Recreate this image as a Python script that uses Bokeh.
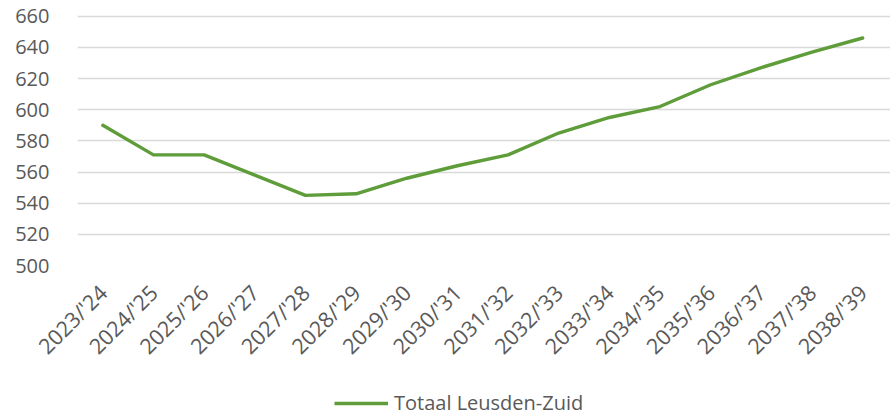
import math
from bokeh.plotting import figure
from bokeh.layouts import column
from bokeh.models import Range1d, FixedTicker, Legend, LegendItem, ColumnDataSource
from bokeh.embed import file_html
from bokeh.resources import INLINE

categories = ["2023/'24", "2024/'25", "2025/'26", "2026/'27", "2027/'28", "2028/'29",
              "2029/'30", "2030/'31", "2031/'32", "2032/'33", "2033/'34", "2034/'35",
              "2035/'36", "2036/'37", "2037/'38", "2038/'39"]
totaal = [590, 571, 571, 558, 545, 546, 556, 564, 571, 585, 595, 602, 616, 627, 637, 646]
y_ticks = [500, 520, 540, 560, 580, 600, 620, 640, 660]
series_name = "Totaal Leusden-Zuid"

FONT = "Open Sans"
TEXT = "#595959"
GREEN = "#5f9c3a"
FS = "20px"

idx = list(range(len(categories)))
src = ColumnDataSource(dict(x=idx, y=totaal))

p = figure(width=890, height=373, output_backend="svg", toolbar_location=None,
           x_range=Range1d(-0.5, 15.55), y_range=Range1d(500, 667.5),
           min_border_left=77, min_border_right=0, min_border_top=4,
           min_border_bottom=108)
p.outline_line_color = None
p.background_fill_color = "white"
p.border_fill_color = "white"

p.line("x", "y", source=src, line_color=GREEN, line_width=3.4,
       line_join="round", line_cap="round")

p.xgrid.grid_line_color = None
p.ygrid.grid_line_color = "#d9d9d9"
p.ygrid.grid_line_width = 1.5

p.yaxis.ticker = FixedTicker(ticks=y_ticks)
p.yaxis.axis_line_color = None
p.yaxis.major_tick_line_color = None
p.yaxis.minor_tick_line_color = None
p.yaxis.major_tick_out = 0
p.yaxis.major_tick_in = 0
p.yaxis.major_label_text_font = FONT
p.yaxis.major_label_text_font_size = FS
p.yaxis.major_label_text_color = TEXT
p.yaxis.major_label_standoff = 28

p.xaxis.ticker = FixedTicker(ticks=idx)
p.xaxis.major_label_overrides = {i: c for i, c in zip(idx, categories)}
p.xaxis.axis_line_color = None
p.xaxis.major_tick_line_color = None
p.xaxis.minor_tick_line_color = None
p.xaxis.major_tick_out = 0
p.xaxis.major_tick_in = 0
p.xaxis.major_label_orientation = math.pi / 4
p.xaxis.major_label_text_font = FONT
p.xaxis.major_label_text_font_size = "21.5px"
p.xaxis.major_label_text_color = TEXT
p.xaxis.major_label_standoff = 23

# legend strip below the chart (its line renderer draws the same data, out of view)
lg = figure(width=890, height=43, output_backend="svg", toolbar_location=None,
            x_range=Range1d(0, 1), y_range=Range1d(0, 1),
            min_border_left=77, min_border_right=0, min_border_top=0,
            min_border_bottom=0)
lg.axis.visible = False
lg.grid.visible = False
lg.outline_line_color = None
lg.border_fill_color = "white"
lg.background_fill_color = "white"
lg_r = lg.line("x", "y", source=src, line_color=GREEN, line_width=3.4)
legend = Legend(items=[LegendItem(label=series_name, renderers=[lg_r])],
                location=(257, 0), orientation="horizontal",
                border_line_color=None, background_fill_alpha=0,
                padding=0, margin=0, glyph_width=54, glyph_height=22,
                label_standoff=6, label_text_font=FONT,
                label_text_font_size=FS, label_text_color=TEXT)
lg.add_layout(legend, "center")

layout = column(p, lg, spacing=0)
open("out.html", "w").write(file_html(layout, INLINE))
